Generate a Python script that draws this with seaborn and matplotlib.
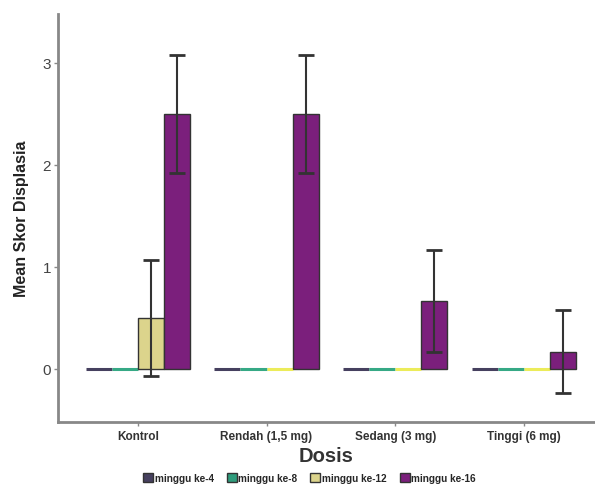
import pandas as pd
import numpy as np
import matplotlib.pyplot as plt
import seaborn as sns

sns.set_style("white")
plt.rcParams['font.family'] = ['Liberation Sans', 'DejaVu Sans']

# data
dosis = ['Kontrol', 'Rendah (1,5 mg)', 'Sedang (3 mg)', 'Tinggi (6 mg)']
minggu = ['minggu ke-4', 'minggu ke-8', 'minggu ke-12', 'minggu ke-16']
mean_ke4 = [0, 0, 0, 0]
mean_ke8 = [0, 0, 0, 0]
mean_ke12 = [0.5, 0, 0, 0]
mean_ke16 = [2.5, 2.5, 0.67, 0.17]
err_ke12 = [0.57, 0, 0, 0]
err_ke16 = [0.58, 0.58, 0.5, 0.41]
err_ke4 = [0, 0, 0, 0]
err_ke8 = [0, 0, 0, 0]

colors = ['#46405f', '#2f9c7c', '#dcd48c', '#7b1f7c']
zero_colors = ['#46405f', '#36a985', '#ecec5a', '#7b1f7c']

means = [mean_ke4, mean_ke8, mean_ke12, mean_ke16]
errs = [err_ke4, err_ke8, err_ke12, err_ke16]

rows = []
for m, vals in zip(minggu, means):
    for d, v in zip(dosis, vals):
        rows.append({'Dosis': d, 'Minggu': m, 'Mean': v})
df = pd.DataFrame(rows)

fig = plt.figure(figsize=(5.95, 4.85), dpi=100)
ax = fig.add_axes([0.0975, 0.128, 0.9, 0.841])

sns.barplot(data=df, x='Dosis', y='Mean', hue='Minggu', order=dosis, hue_order=minggu,
            palette=colors, saturation=1, errorbar=None, width=0.81, edgecolor='#333333',
            linewidth=1, ax=ax)

# error bars + zero-height bars drawn as coloured lines
bar_containers = list(ax.containers)
for i, cont in enumerate(bar_containers):
    for j, bar in enumerate(cont):
        xc = bar.get_x() + bar.get_width() / 2
        if means[i][j] == 0:
            bar.set_edgecolor(zero_colors[i])
            bar.set_linewidth(2.2)
        if errs[i][j] > 0:
            ax.errorbar(xc, means[i][j], yerr=errs[i][j], color='#333333',
                        elinewidth=1.5, capsize=5.5, capthick=2, zorder=5)

ax.set_ylim(-0.52, 3.48)
ax.set_xlim(-0.62, 3.54)
ax.set_yticks([0, 1, 2, 3])
ax.set_yticklabels(['0', '1', '2', '3'], fontsize=11, color='#444444')
ax.set_xticks(range(len(dosis)))
ax.set_xticklabels(dosis, fontsize=8.5, fontweight='bold', color='#333333')
ax.tick_params(axis='both', length=3, width=1, color='#888888', direction='out',
               bottom=True, left=True, pad=2)
ax.tick_params(axis='x', pad=3)

sns.despine(ax=ax)
for s in ['left', 'bottom']:
    ax.spines[s].set_color('#888888')
    ax.spines[s].set_linewidth(2)

ax.set_ylabel('Mean Skor Displasia', fontsize=11.5, fontweight='bold', color='#222222', labelpad=10)
ax.set_xlabel('Dosis', fontsize=14.5, fontweight='bold', color='#333333', labelpad=3)

handles, labels = ax.get_legend_handles_labels()
ax.legend_.remove()
fig.legend(handles, labels, loc='lower center', bbox_to_anchor=(0.52, -0.006), ncol=4, frameon=False,
           prop={'size': 7.2, 'weight': 'bold'}, handlelength=1.0, handleheight=1.0,
           handletextpad=0.15, columnspacing=1.3, borderaxespad=0)

fig.savefig('out.png', dpi=100)
